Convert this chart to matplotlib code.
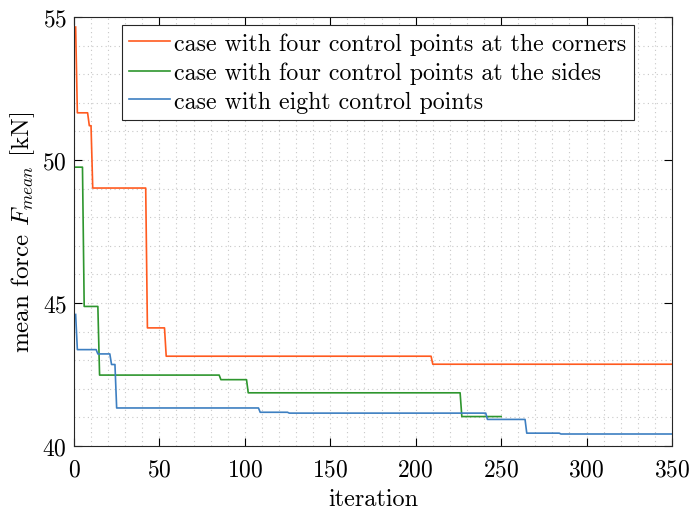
import matplotlib
matplotlib.use('Agg')
import matplotlib.pyplot as plt
from matplotlib.ticker import MultipleLocator

# breakpoints (iteration, mean force in kN)
corners_it = [1, 2, 8, 9, 10, 11, 42, 43, 53, 54, 209, 210, 350]
corners_val = [54.65, 51.65, 51.65, 51.2, 51.2, 49.02, 49.02, 44.13, 44.13, 43.14, 43.14, 42.86, 42.86]

sides_it = [1, 5, 6, 14, 15, 85, 86, 101, 102, 226, 227, 250]
sides_val = [49.75, 49.75, 44.88, 44.88, 42.48, 42.48, 42.32, 42.32, 41.86, 41.86, 41.03, 41.03]

eight_it = [1, 2, 13, 14, 21, 22, 24, 25, 108, 109, 125, 126, 241, 242, 264, 265, 284, 285, 350]
eight_val = [44.6, 43.37, 43.37, 43.22, 43.22, 42.85, 42.85, 41.33, 41.33, 41.18, 41.18, 41.15, 41.15, 40.93,
             40.93, 40.45, 40.45, 40.42, 40.42]

labels = ['case with four control points at the corners',
          'case with four control points at the sides',
          'case with eight control points']

plt.rcParams['font.family'] = 'serif'
plt.rcParams['font.serif'] = ['cmr10']
plt.rcParams['mathtext.fontset'] = 'cm'
plt.rcParams['axes.formatter.use_mathtext'] = True

fig = plt.figure(figsize=(6.91, 5.10), dpi=100)
ax = fig.add_axes([0.107, 0.1235, 0.8655, 0.8412])

ax.plot(corners_it, corners_val, color='#ff5a1f', lw=1.2, label=labels[0])
ax.plot(sides_it, sides_val, color='#2e962e', lw=1.2, label=labels[1])
ax.plot(eight_it, eight_val, color='#3d7fc1', lw=1.2, label=labels[2])

ax.set_xlim(0, 350)
ax.set_ylim(40, 55)
ax.xaxis.set_major_locator(MultipleLocator(50))
ax.xaxis.set_minor_locator(MultipleLocator(10))
ax.yaxis.set_major_locator(MultipleLocator(5))
ax.yaxis.set_minor_locator(MultipleLocator(1))

ax.grid(True, which='both', color='#c8c8c8', linestyle=(0, (1, 3)), linewidth=0.8)
ax.tick_params(which='major', direction='in', top=True, right=True, length=6, width=0.8,
               labelsize=17)
ax.tick_params(axis='x', pad=9)
ax.tick_params(axis='y', pad=5)
ax.tick_params(which='minor', length=0)
for s in ax.spines.values():
    s.set_color('#262626')
    s.set_linewidth(0.8)

ax.set_xlabel('iteration', fontsize=17.5, labelpad=5)
ax.set_ylabel(r'mean force $F_{mean}$ [kN]', fontsize=18, labelpad=4)

leg = ax.legend(loc='upper left', bbox_to_anchor=(0.08, 0.981), fontsize=17.2, fancybox=False,
                framealpha=1, edgecolor='#262626', handlelength=1.7, handletextpad=0.2,
                borderpad=0.3, labelspacing=0.28, borderaxespad=0)
leg.get_frame().set_linewidth(0.8)

fig.savefig('out.png', dpi=100)
